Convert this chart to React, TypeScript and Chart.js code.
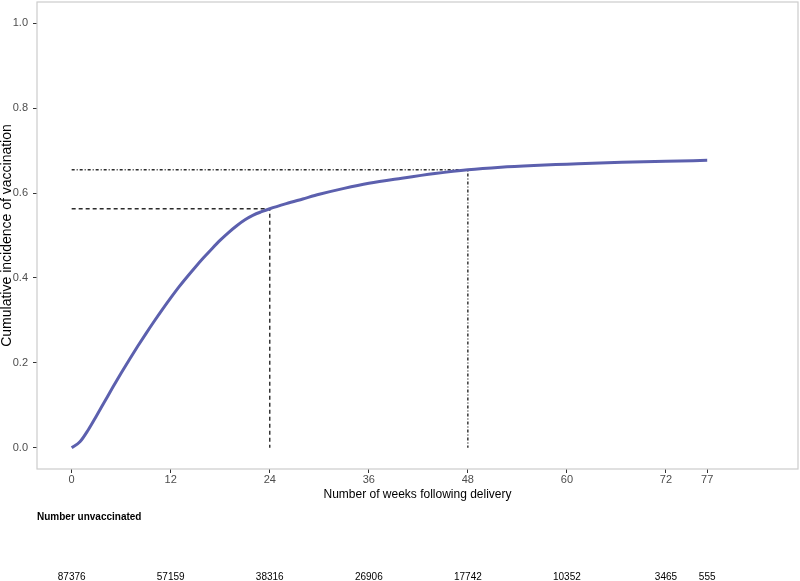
import React, { useEffect, useRef } from "react";
import { Chart, registerables } from "chart.js";

Chart.register(...registerables);

const weeks = [0, 1, 2, 3, 4, 5, 6, 7, 8, 9, 10, 11, 12, 13, 14, 15, 16, 17, 18, 19, 20, 21, 22, 23, 24, 26, 28, 30, 33, 36, 40, 44, 48, 52, 56, 60, 64, 68, 72, 77];
const incidence = [0, 0.014, 0.042, 0.075, 0.109, 0.143, 0.176, 0.208, 0.239, 0.269, 0.298, 0.326, 0.353, 0.379, 0.403, 0.426, 0.448, 0.469, 0.489, 0.507, 0.523, 0.537, 0.548, 0.556, 0.563, 0.575, 0.586, 0.597, 0.611, 0.623, 0.635, 0.646, 0.655, 0.661, 0.665, 0.668, 0.671, 0.673, 0.675, 0.677];

const xTicks = [0, 12, 24, 36, 48, 60, 72, 77];
const yTicks = [0, 0.2, 0.4, 0.6, 0.8, 1.0];
const riskWeeks = [0, 12, 24, 36, 48, 60, 72, 77];
const riskCounts = ["87376", "57159", "38316", "26906", "17742", "10352", "3465", "555"];

const mark24 = { week: 24, value: 0.563 };
const mark48 = { week: 48, value: 0.655 };

const FONT = "'Liberation Sans', Arial, Helvetica, sans-serif";

export default function App() {
  const ref = useRef<HTMLCanvasElement | null>(null);

  useEffect(() => {
    document.body.style.margin = "0";
    const canvas = ref.current;
    if (!canvas) return;

    const frame = {
      id: "frame",
      beforeDatasetsDraw(chart: any) {
        const { ctx, chartArea } = chart;
        ctx.save();
        ctx.strokeStyle = "#cccccc";
        ctx.lineWidth = 1.2;
        ctx.strokeRect(chartArea.left, chartArea.top, chartArea.right - chartArea.left, chartArea.bottom - chartArea.top);
        ctx.restore();
      },
      afterDraw(chart: any) {
        const { ctx } = chart;
        const xs = chart.scales.x;
        ctx.save();
        ctx.fillStyle = "#000";
        ctx.font = `bold 10px ${FONT}`;
        ctx.textAlign = "left";
        ctx.textBaseline = "middle";
        ctx.fillText("Number unvaccinated", 37, 517);
        ctx.font = `10px ${FONT}`;
        ctx.textAlign = "center";
        riskWeeks.forEach((w, i) => {
          ctx.fillText(riskCounts[i], xs.getPixelForValue(w), 577);
        });
        ctx.restore();
      },
    };

    const chart = new Chart(canvas, {
      type: "line",
      data: {
        datasets: [
          {
            label: "curve",
            data: weeks.map((w, i) => ({ x: w, y: incidence[i] })),
            borderColor: "#5c60ae",
            borderWidth: 3,
            pointRadius: 0,
            cubicInterpolationMode: "monotone",
            fill: false,
          },
          {
            label: "ref24",
            data: [
              { x: 0, y: mark24.value },
              { x: mark24.week, y: mark24.value },
              { x: mark24.week, y: 0 },
            ],
            borderColor: "#2b2b2b",
            borderWidth: 1.4,
            borderDash: [4, 3],
            pointRadius: 0,
            tension: 0,
            fill: false,
          },
          {
            label: "ref48",
            data: [
              { x: 0, y: mark48.value },
              { x: mark48.week, y: mark48.value },
              { x: mark48.week, y: 0 },
            ],
            borderColor: "#2b2b2b",
            borderWidth: 1.4,
            borderDash: [3, 2, 1, 2],
            pointRadius: 0,
            tension: 0,
            fill: false,
          },
        ],
      },
      options: {
        animation: false,
        responsive: false,
        layout: { padding: { top: 2, right: 2, left: 0, bottom: 79 } },
        plugins: { legend: { display: false }, tooltip: { enabled: false } },
        scales: {
          x: {
            type: "linear",
            min: -4.2,
            max: 88,
            afterBuildTicks(scale: any) {
              scale.ticks = xTicks.map((v) => ({ value: v }));
            },
            afterFit(scale: any) {
              scale.height = 33;
              scale.paddingLeft = 0;
              scale.paddingRight = 0;
            },
            grid: { display: true, drawOnChartArea: false, drawTicks: true, tickLength: 4, color: "#333333" },
            border: { display: false },
            ticks: {
              autoSkip: false,
              maxRotation: 0,
              padding: 0,
              color: "#4d4d4d",
              font: { family: FONT, size: 11 },
              callback: (v: any) => String(v),
            },
            title: {
              display: true,
              text: "Number of weeks following delivery",
              color: "#000",
              font: { family: FONT, size: 12 },
              padding: { top: 0, bottom: 0 },
            },
          },
          y: {
            type: "linear",
            min: -0.05,
            max: 1.05,
            afterBuildTicks(scale: any) {
              scale.ticks = yTicks.map((v) => ({ value: v }));
            },
            afterFit(scale: any) {
              scale.width = 37;
              scale.paddingTop = 0;
              scale.paddingBottom = 0;
            },
            grid: { display: true, drawOnChartArea: false, drawTicks: true, tickLength: 4, color: "#333333" },
            border: { display: false },
            ticks: {
              padding: 5,
              color: "#4d4d4d",
              font: { family: FONT, size: 11 },
              callback: (v: any) => Number(v).toFixed(1),
            },
            title: {
              display: true,
              text: "Cumulative incidence of vaccination",
              color: "#000",
              font: { family: FONT, size: 14 },
              padding: { top: -1, bottom: 0 },
            },
          },
        },
      },
      plugins: [frame],
    } as any);

    return () => chart.destroy();
  }, []);

  return (
    <div style={{ width: 800, height: 581 }}>
      <canvas ref={ref} width={800} height={581} style={{ display: "block" }} />
    </div>
  );
}
